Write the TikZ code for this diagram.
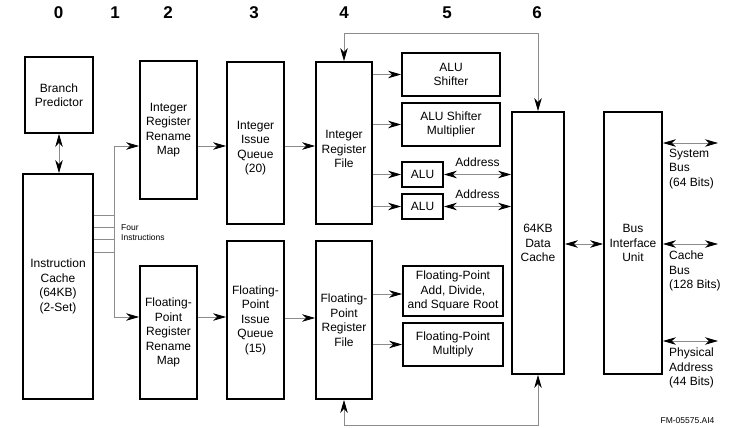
\documentclass[tikz,border=0pt]{standalone}
\usepackage{fontspec}
\setmainfont{Liberation Sans}
\usetikzlibrary{arrows.meta,calc}
\begin{document}
\begin{tikzpicture}[x=1pt,y=-1pt,
  box/.style={draw=black, line width=1.8pt, align=center, inner sep=0pt, font=\fontsize{12}{14.5}\selectfont},
  txt/.style={align=center, inner sep=0pt, font=\fontsize{12}{14.5}\selectfont},
  lbl/.style={align=left, inner sep=0pt, font=\fontsize{12}{14.5}\selectfont},
  con/.style={draw=gray!90, line width=0.8pt},
  arr/.style={con, -{Stealth[length=13pt,width=7.5pt,inset=4pt,color=black]}},
  dbl/.style={con, {Stealth[length=13pt,width=7.5pt,inset=4pt,color=black]}-{Stealth[length=13pt,width=7.5pt,inset=4pt,color=black]}},
  colnum/.style={inner sep=0pt, font=\fontsize{17}{17}\selectfont\bfseries},
  small/.style={inner sep=0pt, align=left, font=\fontsize{8.5}{10}\selectfont}
]
\useasboundingbox[fill=white] (0,0) rectangle (729,428);

% column numbers
\node[colnum] (c0) at (58.5,13) {0};
\node[colnum] (c1) at (115,13) {1};
\node[colnum] (c2) at (168,13) {2};
\node[colnum] (c3) at (254,13) {3};
\node[colnum] (c4) at (344,13) {4};
\node[colnum] (c5) at (447,13) {5};
\node[colnum] (c6) at (537,13) {6};

% boxes
\node[box, minimum width=68pt, minimum height=76pt] (bp) at (59,95) {Branch\\Predictor};
\node[box, minimum width=70pt, minimum height=225pt] (ic) at (58,286.5) {Instruction\\Cache\\(64KB)\\(2-Set)};
\node[box, minimum width=57pt, minimum height=138pt] (irm) at (168.5,130) {Integer\\Register\\Rename\\Map};
\node[box, minimum width=57pt, minimum height=133pt] (frm) at (168.5,332.5) {Floating-\\Point\\Register\\Rename\\Map};
\node[box, minimum width=57pt, minimum height=162pt,
  label={[txt,yshift=-5pt]center:{Integer\\Issue\\Queue\\(20)}}] (iiq) at (255.5,143) {};
\node[box, minimum width=57pt, minimum height=158pt] (fiq) at (255.5,320) {Floating-\\Point\\Issue\\Queue\\(15)};
\node[box, minimum width=56pt, minimum height=162pt,
  label={[txt,yshift=-6pt]center:{Integer\\Register\\File}}] (irf) at (344,143) {};
\node[box, minimum width=56pt, minimum height=158pt] (frf) at (344,320) {Floating-\\Point\\Register\\File};
\node[box, minimum width=98pt, minimum height=43pt] (alus) at (451,74.5) {ALU\\Shifter};
\node[box, minimum width=98pt, minimum height=43pt] (alusm) at (451,124.5) {ALU Shifter\\Multiplier};
\node[box, minimum width=41pt, minimum height=25pt] (alu1) at (422.5,174.5) {ALU};
\node[box, minimum width=41pt, minimum height=25pt] (alu2) at (422.5,206.5) {ALU};
\node[box, minimum width=100pt, minimum height=50pt] (fpa) at (453,291) {Floating-Point\\Add, Divide,\\and Square Root};
\node[box, minimum width=100pt, minimum height=43pt] (fpm) at (453,344.5) {Floating-Point\\Multiply};
\node[box, minimum width=52pt, minimum height=262pt] (dc) at (538,243) {64KB\\Data\\Cache};
\node[box, minimum width=58pt, minimum height=262pt] (biu) at (633,243) {Bus\\Interface\\Unit};

% branch predictor <-> icache
\draw[dbl] (bp.south) -- (bp.south |- ic.north);

% four instructions fan-out
\coordinate (f1) at (114,215);
\coordinate (f2) at (114,227);
\coordinate (f3) at (114,239);
\coordinate (f4) at (114,252);
\draw[con] (ic.east |- f1) -- (f1);
\draw[con] (ic.east |- f2) -- (f2);
\draw[con] (ic.east |- f3) -- (f3);
\draw[con] (ic.east |- f4) -- (f4);
\draw[con] (f1) -- (f4);
\draw[arr] (f1) |- (irm.west |- 0,146);
\draw[arr] (f4) |- (frm.west |- 0,317);
\node[small, anchor=west] (four) at (121,233) {Four\\Instructions};

% pipeline arrows
\draw[arr] (irm.east |- 0,146) -- (iiq.west |- 0,146);
\draw[arr] (frm.east |- 0,317) -- (fiq.west |- 0,317);
\draw[arr] (iiq.east |- 0,146) -- (irf.west |- 0,146);
\draw[arr] (fiq.east |- 0,318) -- (frf.west |- 0,318);
\draw[arr] (irf.east |- alus.west) -- (alus.west);
\draw[arr] (irf.east |- alusm.west) -- (alusm.west);
\draw[arr] (irf.east |- alu1.west) -- (alu1.west);
\draw[arr] (irf.east |- alu2.west) -- (alu2.west);
\draw[arr] (frf.east |- 0,294) -- (fpa.west |- 0,294);
\draw[arr] (frf.east |- fpm.west) -- (fpm.west);

% address
\draw[dbl] (alu1.east) -- (dc.west |- alu1.east) node[midway, above=7pt, txt] (ad1) {Address};
\draw[dbl] (alu2.east) -- (dc.west |- alu2.east) node[midway, above=7pt, txt] (ad2) {Address};

% data cache <-> BIU
\draw[dbl] (dc.east |- 0,244) -- (biu.west |- 0,244);

% external buses
\coordinate (sb) at (718,143);
\coordinate (cb) at (718,244);
\coordinate (pa) at (718,341);
\draw[dbl] (biu.east |- sb) -- (sb);
\draw[dbl] (biu.east |- cb) -- (cb);
\draw[dbl] (biu.east |- pa) -- (pa);
\node[lbl, anchor=west] (sbl) at (669,169) {System\\Bus\\(64 Bits)};
\node[lbl, anchor=west] (cbl) at (669,271) {Cache\\Bus\\(128 Bits)};
\node[lbl, anchor=west] (pal) at (669,368) {Physical\\Address\\(44 Bits)};

% feedback loops
\coordinate (ty) at (0,33);
\coordinate (by) at (0,425);
\draw[dbl] (dc.north) -- (dc.north |- ty) -- (irf.north |- ty) -- (irf.north);
\draw[dbl] (dc.south) -- (dc.south |- by) -- (frf.south |- by) -- (frf.south);

\node[small] (fm) at (687.5,421) {FM-05575.AI4};
\end{tikzpicture}
\end{document}
